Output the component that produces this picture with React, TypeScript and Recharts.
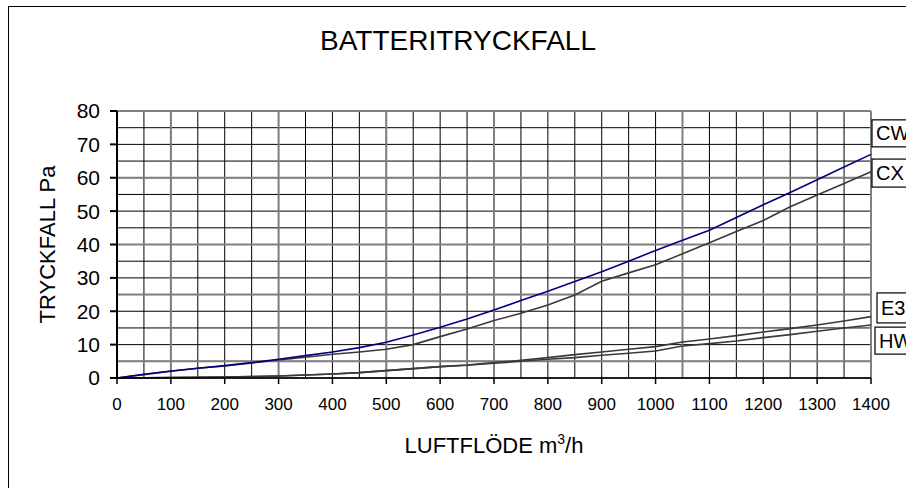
import { LineChart, Line, XAxis, YAxis, CartesianGrid, ReferenceDot } from "recharts";

// luftflöde m3/h
const flow = [0, 50, 100, 150, 200, 250, 300, 350, 400, 450, 500, 550, 600, 650, 700, 750, 800, 850, 900, 950, 1000, 1050, 1100, 1150, 1200, 1250, 1300, 1350, 1400];
// tryckfall Pa per batteri
const cw = [0, 1.1, 2.1, 2.9, 3.7, 4.6, 5.6, 6.7, 7.8, 9.1, 10.7, 12.9, 15.2, 17.7, 20.4, 23.2, 26.0, 28.9, 31.8, 35.0, 38.2, 41.3, 44.3, 48.1, 51.9, 55.6, 59.4, 63.2, 67.0];
const cx = [0, 1.0, 2.0, 2.9, 3.6, 4.5, 5.4, 6.2, 7.1, 7.8, 8.6, 10.0, 12.4, 14.7, 17.2, 19.4, 21.9, 24.9, 29.0, 31.5, 33.9, 37.2, 40.5, 43.9, 47.2, 51.3, 54.8, 58.3, 61.8];
const e3 = [0, 0.05, 0.1, 0.2, 0.3, 0.4, 0.6, 0.9, 1.2, 1.6, 2.2, 2.8, 3.4, 3.9, 4.6, 5.3, 6.1, 7.0, 7.8, 8.6, 9.4, 10.8, 11.7, 12.7, 13.8, 14.8, 15.9, 17.1, 18.4];
const hw = [0, 0.05, 0.1, 0.2, 0.3, 0.4, 0.6, 0.9, 1.2, 1.6, 2.2, 2.8, 3.4, 3.8, 4.4, 5.0, 5.6, 6.1, 6.8, 7.4, 8.1, 9.6, 10.3, 11.1, 12.1, 13.0, 14.0, 15.0, 15.9];

const xTicks = [0, 100, 200, 300, 400, 500, 600, 700, 800, 900, 1000, 1100, 1200, 1300, 1400];
const yTicks = [0, 10, 20, 30, 40, 50, 60, 70, 80];
const gridX = Array.from({ length: 29 }, (_, i) => i * 50);
const gridY = Array.from({ length: 17 }, (_, i) => i * 5);
const grayGridX = [100, 300, 500, 700, 1050, 1400];
const grayGridY = [5, 25, 40, 60, 80];

const data = flow.map((x, i) => ({ x, CW: cw[i], CX: cx[i], E3: e3[i], HW: hw[i] }));

// boxed series tags at the right edge: name, anchor value on y axis, box height
const tags = [
  { name: "CW", y: 73.3, dx: 1, h: 27 },
  { name: "CX", y: 61.4, dx: 1, h: 28 },
  { name: "E3", y: 21.0, dx: 6, h: 30 },
  { name: "HW", y: 11.2, dx: 4, h: 27 },
];

const FONT = '"Liberation Sans", Arial, sans-serif';

function TagBox(props: any) {
  const { cx: px, cy: py, dx, h, name } = props;
  if (px == null || py == null) return null;
  return (
    <g>
      <rect x={px + dx} y={py - h / 2} width={60} height={h} fill="#fff" stroke="#000" strokeWidth={1.2} />
      <text x={px + dx + 4} y={py + 7} fontSize={20} fontFamily={FONT} fill="#000">
        {name}
      </text>
    </g>
  );
}

function YTitle(props: any) {
  const vb = props.viewBox;
  const cx = vb.x - 10;
  const cy = vb.y + vb.height / 2;
  return (
    <text
      x={cx}
      y={cy}
      transform={`rotate(-90, ${cx}, ${cy})`}
      textAnchor="middle"
      dy="0.36em"
      fontSize={22}
      fontFamily={FONT}
      fill="#000"
    >
      TRYCKFALL Pa
    </text>
  );
}

function XTitle(props: any) {
  const vb = props.viewBox;
  const cx = vb.x + vb.width / 2;
  const cy = vb.y + vb.height + 45;
  return (
    <text x={cx} y={cy} textAnchor="middle" fontSize={22} fontFamily={FONT} fill="#000">
      LUFTFLÖDE m
      <tspan fontSize={14} dy={-9}>3</tspan>
      <tspan dy={9}>/h</tspan>
    </text>
  );
}

export default function App() {
  return (
    <div
      style={{
        position: "fixed",
        left: 0,
        top: 0,
        width: 906,
        height: 488,
        overflow: "hidden",
        background: "#fff",
        fontFamily: FONT,
      }}
    >
      <div
        style={{
          position: "absolute",
          left: 8,
          top: 6,
          width: 1000,
          height: 1000,
          border: "1px solid #000",
        }}
      />
      <div
        style={{
          position: "absolute",
          left: 458,
          top: 27,
          transform: "translateX(-50%)",
          fontSize: 28,
          lineHeight: "28px",
          whiteSpace: "nowrap",
          color: "#000",
        }}
      >
        BATTERITRYCKFALL
      </div>
      <div style={{ position: "absolute", left: 0, top: 0 }}>
        <LineChart width={906} height={488} data={data} margin={{ top: 111, right: 35, left: 57, bottom: 80 }}>
          <CartesianGrid stroke="#000" strokeWidth={1} verticalValues={gridX} horizontalValues={gridY} />
          <CartesianGrid stroke="#808080" strokeWidth={2} verticalValues={grayGridX} horizontalValues={grayGridY} />
          <XAxis
            dataKey="x"
            type="number"
            domain={[0, 1400]}
            ticks={xTicks}
            interval={0}
            height={30}
            tickSize={6}
            tickMargin={14}
            stroke="#000"
            strokeWidth={1.5}
            tick={{ fontSize: 17, fill: "#000", fontFamily: FONT }}
            label={<XTitle />}
          />
          <YAxis
            type="number"
            domain={[0, 80]}
            ticks={yTicks}
            interval={0}
            width={60}
            tickSize={7}
            tickMargin={10}
            stroke="#000"
            strokeWidth={2}
            tick={{ fontSize: 21, fill: "#000", fontFamily: FONT }}
            label={<YTitle />}
          />
          <Line dataKey="HW" stroke="#3a3a3a" strokeWidth={1.6} dot={false} isAnimationActive={false} />
          <Line dataKey="E3" stroke="#3a3a3a" strokeWidth={1.6} dot={false} isAnimationActive={false} />
          <Line dataKey="CX" stroke="#3a3a3a" strokeWidth={1.6} dot={false} isAnimationActive={false} />
          <Line dataKey="CW" stroke="#000080" strokeWidth={1.6} dot={false} isAnimationActive={false} />
          {tags.map((t) => (
            <ReferenceDot
              key={t.name}
              x={1400}
              y={t.y}
              r={0}
              ifOverflow="visible"
              shape={(p: any) => <TagBox {...p} dx={t.dx} h={t.h} name={t.name} />}
            />
          ))}
        </LineChart>
      </div>
    </div>
  );
}
